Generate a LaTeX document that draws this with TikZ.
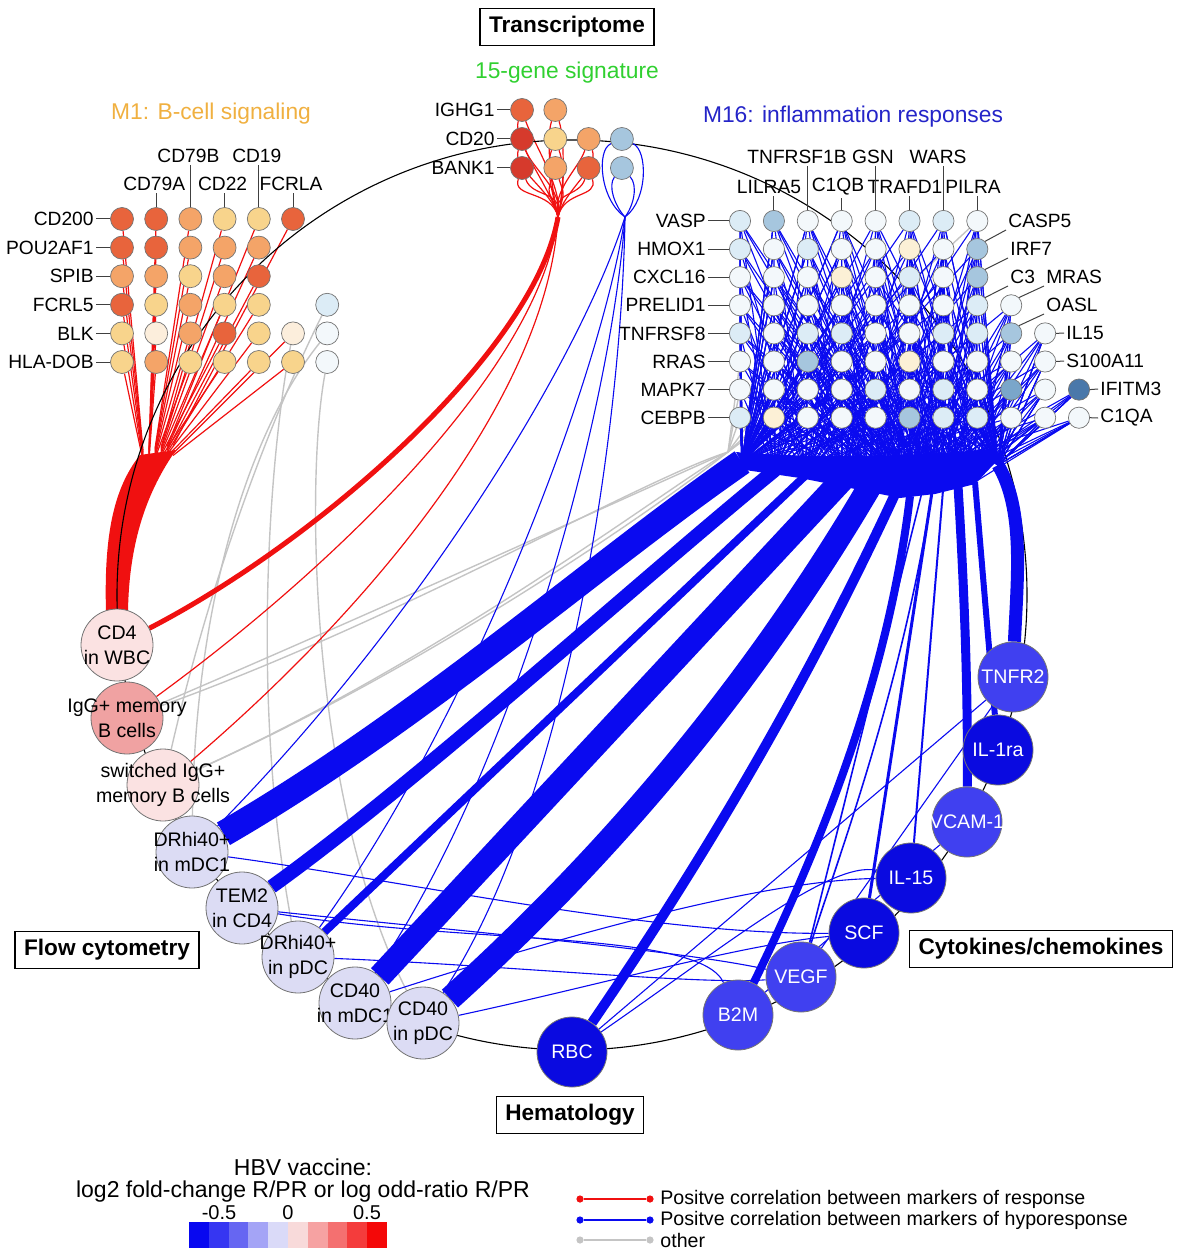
\documentclass[tikz,border=0pt]{standalone}
\usepackage{fontspec}
\setmainfont{Liberation Sans}
\usetikzlibrary{calc}
\pgfdeclarelayer{lay1}
\pgfdeclarelayer{lay2}
\pgfdeclarelayer{lay3}
\pgfsetlayers{lay1,lay2,lay3,main}
\definecolor{edgered}{HTML}{F01010}
\definecolor{edgeblue}{HTML}{0A0AF0}
\definecolor{edgegray}{HTML}{C4C4C4}
\definecolor{o1}{HTML}{E8643C}
\definecolor{o2}{HTML}{F4A468}
\definecolor{o3}{HTML}{F8D48C}
\definecolor{o4}{HTML}{FCEEDC}
\definecolor{r1}{HTML}{D63A2C}
\definecolor{b0}{HTML}{F3F8FB}
\definecolor{b1}{HTML}{DCECF6}
\definecolor{b2}{HTML}{A6C6DE}
\definecolor{b3}{HTML}{7AA6CA}
\definecolor{b4}{HTML}{4A78AA}
\definecolor{y0}{HTML}{FCF0D6}
\definecolor{pinkA}{HTML}{FBE2E2}
\definecolor{pinkB}{HTML}{F0A2A2}
\definecolor{lav}{HTML}{DCDCF4}
\definecolor{cyA}{HTML}{4040F0}
\definecolor{cyB}{HTML}{0A0AE0}
\definecolor{ttlgreen}{HTML}{30D030}
\definecolor{ttlorange}{HTML}{F0B040}
\definecolor{ttlblue}{HTML}{2424C8}
\definecolor{sc0}{HTML}{0808F0}
\definecolor{sc1}{HTML}{3636F2}
\definecolor{sc2}{HTML}{6666F2}
\definecolor{sc3}{HTML}{A4A4F6}
\definecolor{sc4}{HTML}{DADAF8}
\definecolor{sc5}{HTML}{F8DADA}
\definecolor{sc6}{HTML}{F6A2A2}
\definecolor{sc7}{HTML}{F47070}
\definecolor{sc8}{HTML}{F43C3C}
\definecolor{sc9}{HTML}{F40808}
\begin{document}
\begin{tikzpicture}[x=0.5pt,y=-0.5pt,
  gene/.style={circle,draw=black!55,line width=0.35pt,minimum size=11.5pt,inner sep=0pt},
  rgene/.style={gene,minimum size=10.6pt},
  bignode/.style={circle,draw=black!55,line width=0.4pt,minimum size=36pt,inner sep=0pt},
  cyto/.style={bignode,minimum size=35pt},
  glab/.style={font=\fontsize{9.6}{11}\selectfont,inner sep=1pt},
  nlab/.style={font=\fontsize{9.8}{12.4}\selectfont,align=center,inner sep=0pt},
  wlab/.style={nlab,text=white},
  boxlab/.style={draw=black,line width=0.8pt,font=\bfseries\fontsize{11.3}{13}\selectfont,inner xsep=4.5pt,inner ysep=0pt,minimum height=18.5pt},
  ttl/.style={font=\fontsize{11.4}{13}\selectfont},
  lgd/.style={font=\fontsize{9.8}{11}\selectfont,anchor=west,inner sep=0pt},
  redge/.style={draw=edgered,line width=0.6pt},
  bedge/.style={draw=edgeblue,line width=0.55pt},
  gedge/.style={draw=edgegray,line width=0.7pt},
  leader/.style={draw=black!75,line width=0.5pt},
  dot/.style={circle,inner sep=0pt,minimum size=3.6pt},
]
\useasboundingbox (0,0) rectangle (1180,1251);

% ---------------- titles and boxes
\node[boxlab] (tr) at (567,27) {Transcriptome};
\node[boxlab] (fc) at (107,950) {Flow cytometry};
\node[boxlab] (hm) at (570,1115) {Hematology};
\node[boxlab] (cc) at (1041,949) {Cytokines/chemokines};
\node[ttl,text=ttlgreen] (t15) at (567,73) {15-gene signature};
\node[ttl,text=ttlorange] (tm1) at (211,114) {M1: B-cell signaling};
\node[ttl,text=ttlblue] (tm16) at (853,117) {M16: inflammation responses};

% ---------------- M1 grid
\foreach \c/\r/\col in {1/1/o1,2/1/o1,3/1/o2,4/1/o3,5/1/o3,6/1/o1,
  1/2/o1,2/2/o1,3/2/o2,4/2/o2,5/2/o2,
  1/3/o2,2/3/o2,3/3/o3,4/3/o2,5/3/o1,
  1/4/o1,2/4/o3,3/4/o2,4/4/o3,5/4/o3,7/4/b1,
  1/5/o3,2/5/o4,3/5/o2,4/5/o1,5/5/o3,6/5/o4,7/5/b0,
  1/6/o3,2/6/o2,3/6/o3,4/6/o3,5/6/o3,6/6/o3,7/6/b0}
  \node[gene,fill=\col] (L\c\r) at ({122+(\c-1)*34.2},{219+(\r-1)*28.6}) {};
\foreach \r/\t in {1/CD200,2/POU2AF1,3/SPIB,4/FCRL5,5/BLK,6/HLA-DOB}{
  \node[glab,anchor=east] (ml\r) at (96,{219+(\r-1)*28.6}) {\t};
  \draw[leader] (ml\r.east) -- (L1\r.west);
}
\foreach \c/\t/\yy in {2/CD79A/184,3/CD79B/156,4/CD22/184,5/CD19/156,6/FCRLA/184}{
  \node[glab] (mc\c) at ({120+(\c-1)*34.2},\yy) {\t};
  \draw[leader] (L\c1.north) -- (L\c1.north |- mc\c.south);
}

% ---------------- 15-gene signature
\foreach \c/\r/\col in {1/1/o1,2/1/o2,1/2/r1,2/2/o3,3/2/o2,4/2/b2,1/3/r1,2/3/o2,3/3/o1,4/3/b2}
  \node[gene,fill=\col] (T\c\r) at ({522+(\c-1)*33.3},{110+(\r-1)*29}) {};
\foreach \r/\t in {1/IGHG1,2/CD20,3/BANK1}{
  \node[glab,anchor=east] (tl\r) at (497,{110+(\r-1)*29}) {\t};
  \draw[leader] (tl\r.east) -- (T1\r.west);
}

% ---------------- M16 grid
\foreach \c/\r/\col in {1/1/b1,2/1/b2,3/1/b0,4/1/b0,5/1/b0,6/1/b1,7/1/b1,8/1/b0,
  1/2/b1,2/2/b0,3/2/b1,4/2/b0,5/2/b0,6/2/y0,7/2/b0,8/2/b2,
  1/3/b0,2/3/b0,3/3/b0,4/3/y0,5/3/b0,6/3/b1,7/3/b0,8/3/b2,
  1/4/b0,2/4/b0,3/4/b0,4/4/b0,5/4/b0,6/4/b0,7/4/b0,8/4/b1,9/4/b0,
  1/5/b1,2/5/b0,3/5/b1,4/5/b1,5/5/b0,6/5/b0,7/5/b1,8/5/b1,9/5/b2,10/5/b0,
  1/6/b0,2/6/b0,3/6/b2,4/6/b0,5/6/b0,6/6/y0,7/6/b0,8/6/b0,9/6/b0,10/6/b0,
  1/7/b0,2/7/b0,3/7/b0,4/7/b0,5/7/b1,6/7/b0,7/7/b1,8/7/b0,9/7/b3,10/7/b0,11/7/b4,
  1/8/b1,2/8/y0,3/8/b0,4/8/b0,5/8/b0,6/8/b2,7/8/b1,8/8/b1,9/8/b0,10/8/b0,11/8/b0}
  \node[rgene,fill=\col] (R\c r\r) at ({740+(\c-1)*33.9},{221+(\r-1)*28.1}) {};
\foreach \r/\t in {1/VASP,2/HMOX1,3/CXCL16,4/PRELID1,5/TNFRSF8,6/RRAS,7/MAPK7,8/CEBPB}{
  \node[glab,anchor=east] (rl\r) at (708,{221+(\r-1)*28.1}) {\t};
  \draw[leader] (rl\r.east) -- (R1r\r.west);
}
\foreach \c/\t/\xx/\yy in {2/LILRA5/769/187,4/C1QB/838/187,6/TRAFD1/905/187,8/PILRA/973/187,
  3/TNFRSF1B/797/157,5/GSN/873/157,7/WARS/938/157}{
  \node[glab] (rc\c) at (\xx,\yy) {\t};
  \draw[leader] (R\c r1.north) -- (R\c r1.north |- rc\c.south);
}
\node[glab,anchor=south west] (casp) at (1006,230) {CASP5};
\node[glab,anchor=south west] (irf) at (1008,258) {IRF7};
\node[glab,anchor=south west] (cthree) at (1008,286) {C3};
\node[glab,anchor=south west] (mras) at (1044,286) {MRAS};
\node[glab,anchor=south west] (oasl) at (1044,314) {OASL};
\draw[leader] (R8r2.north east) -- (casp.south west);
\draw[leader] (R8r3.north east) -- (irf.south west);
\draw[leader] (R8r4.north east) -- (cthree.south west);
\draw[leader] (R9r4.north east) -- (mras.south west);
\draw[leader] (R9r5.north east) -- (oasl.south west);
\node[glab,anchor=west] (ilf) at (1064,333) {IL15};
\node[glab,anchor=west] (sa) at (1064,361) {S100A11};
\node[glab,anchor=west] (ifi) at (1098,389) {IFITM3};
\node[glab,anchor=west] (cqa) at (1098,418) {C1QA};
\draw[leader] (R10r5.east) -- (ilf.west);
\draw[leader] (R10r6.east) -- (sa.west);
\draw[leader] (R11r7.east) -- (ifi.west);
\draw[leader] (R11r8.east) -- (cqa.west);

% ---------------- flow cytometry nodes
\node[bignode,fill=pinkA,label={[nlab]center:{CD4\\in WBC}}] (cd4) at (117,645) {};
\node[bignode,fill=pinkB,label={[nlab]center:{IgG+ memory\\B cells}}] (igg) at (127,718) {};
\node[bignode,fill=pinkA,label={[nlab]center:{switched IgG+\\memory B cells}}] (sw) at (163,785) {};
\node[bignode,fill=lav,label={[nlab]center:{DRhi40+\\in mDC1}}] (dm) at (192,852) {};
\node[bignode,fill=lav,label={[nlab]center:{TEM2\\in CD4}}] (tem) at (242,908) {};
\node[bignode,fill=lav,label={[nlab]center:{DRhi40+\\in pDC}}] (dp) at (298,957) {};
\node[bignode,fill=lav,label={[nlab]center:{CD40\\in mDC1}}] (cm) at (355,1003) {};
\node[bignode,fill=lav,label={[nlab]center:{CD40\\in pDC}}] (cp) at (423,1023) {};

% ---------------- hematology / cytokines
\node[cyto,fill=cyB,label={[wlab]center:RBC}] (rbc) at (572,1052) {};
\node[cyto,fill=cyA,label={[wlab]center:B2M}] (b2m) at (738,1015) {};
\node[cyto,fill=cyA,label={[wlab]center:VEGF}] (vegf) at (801,977) {};
\node[cyto,fill=cyB,label={[wlab]center:SCF}] (scf) at (864,933) {};
\node[cyto,fill=cyB,label={[wlab]center:IL-15}] (il15) at (911,878) {};
\node[cyto,fill=cyA,label={[wlab]center:VCAM-1}] (vcam) at (967,822) {};
\node[cyto,fill=cyB,label={[wlab]center:IL-1ra}] (il1ra) at (998,750) {};
\node[cyto,fill=cyA,label={[wlab]center:TNFR2}] (tnfr2) at (1013,677) {};

% ---------------- hub points
\coordinate (fan) at (158,452);
\coordinate (redhub) at (558,217);
\coordinate (bluehub) at (625,217);
\coordinate (grayhub) at (728,452);
\coordinate (h0) at (742,462);
\coordinate (h1) at (775,470);
\coordinate (h2) at (806,475);
\coordinate (h3) at (842,480);
\coordinate (h4) at (870,486);
\coordinate (h5) at (896,492);
\coordinate (h6) at (910,496);
\coordinate (h7) at (922,492);
\coordinate (h8) at (932,492);
\coordinate (h9) at (943,490);
\coordinate (h10) at (958,486);
\coordinate (h11) at (975,482);
\coordinate (h12) at (998,465);

% ---------------- gray and red edges
\begin{pgfonlayer}{lay1}
\draw[gedge] (L74) .. controls (270,420) and (210,580) .. (sw);
\draw[gedge] (L75) .. controls (250,430) and (195,600) .. (dm);
\draw[gedge] (L65) .. controls (270,450) and (250,700) .. (dp);
\draw[gedge] (L76) .. controls (305,480) and (310,800) .. (cp);
\draw[gedge] (igg) .. controls (380,610) and (620,500) .. (grayhub);
\draw[gedge] (igg) .. controls (400,620) and (640,480) .. (grayhub);
\draw[gedge] (sw) .. controls (420,670) and (640,520) .. (grayhub);
\draw[gedge] (sw) .. controls (440,660) and (650,500) .. (grayhub);
\foreach \n in {R1r6,R1r7,R1r8,R2r8,R2r7,R8r1}
  \draw[gedge] (\n) -- (grayhub);
% M1 fan and bundle
\fill[edgered] (106,612) .. controls (104,540) and (112,490) .. (140,455)
  -- (176,450) .. controls (148,490) and (129,540) .. (128,612) -- cycle;
\foreach \c/\r in {1/1,2/1,3/1,4/1,5/1,6/1,1/2,2/2,3/2,4/2,5/2,1/3,2/3,3/3,4/3,5/3,
  1/4,2/4,3/4,4/4,5/4,1/5,2/5,3/5,4/5,5/5,6/5,1/6,2/6,3/6,4/6,5/6,6/6}
  \draw[redge] (L\c\r) -- ($(fan)+({(\c-3.5)*6},{(\r-3)*2+(\c-3.5)*-1})$);
% 15-gene signature loops
\foreach \n in {T11,T21,T12,T22,T32,T13,T23,T33}{
  \draw[redge] (\n) .. controls ($(\n)+(-10,30)$) and (552,190) .. (redhub);
  \draw[redge] (\n) .. controls ($(\n)+(10,30)$) and (564,190) .. (redhub);
}
\draw[edgered,line width=2.5pt] (redhub) .. controls (535,350) and (320,540) .. (cd4);
\draw[redge] (redhub) .. controls (540,370) and (330,570) .. (igg);
\draw[redge] (redhub) .. controls (548,390) and (380,600) .. (sw);
\end{pgfonlayer}

% ---------------- outer circle
\begin{pgfonlayer}{lay2}
\draw[black,line width=0.55pt] (572,595) circle [radius=227.5pt];
\end{pgfonlayer}

% ---------------- blue edges
\begin{pgfonlayer}{lay3}
\draw[bedge] (T42) .. controls (596,150) and (600,200) .. (bluehub);
\draw[bedge] (T42) .. controls (648,150) and (648,200) .. (bluehub);
\draw[bedge] (T43) .. controls (608,185) and (614,205) .. (bluehub);
\draw[bedge] (T43) .. controls (638,185) and (634,205) .. (bluehub);
\draw[bedge] (bluehub) .. controls (580,360) and (420,620) .. (dm);
\draw[bedge] (bluehub) .. controls (600,380) and (470,720) .. (dp);
\draw[bedge] (bluehub) .. controls (612,400) and (520,760) .. (cm);
\draw[bedge] (bluehub) .. controls (622,420) and (570,800) .. (cp);
% dense mass under the M16 grid
\fill[edgeblue] (736,452) .. controls (800,458) and (920,458) .. (996,448)
  -- (994,464) -- (975,484) -- (935,494)
  -- (900,498) -- (860,490) -- (800,478) -- (745,470) -- cycle;
% mesh
\foreach \c/\r in {1/1,2/1,3/1,4/1,5/1,6/1,7/1,8/1,
  1/2,2/2,3/2,4/2,5/2,6/2,7/2,8/2,
  1/3,2/3,3/3,4/3,5/3,6/3,7/3,8/3,
  1/4,2/4,3/4,4/4,5/4,6/4,7/4,8/4,9/4,
  1/5,2/5,3/5,4/5,5/5,6/5,7/5,8/5,9/5,10/5,
  1/6,2/6,3/6,4/6,5/6,6/6,7/6,8/6,9/6,10/6,
  1/7,2/7,3/7,4/7,5/7,6/7,7/7,8/7,9/7,10/7,11/7,
  1/8,2/8,3/8,4/8,5/8,6/8,7/8,8/8,9/8,10/8,11/8}{
  \foreach \o in {-7,-4,-2,0,2,4,6}{
    \pgfmathtruncatemacro\hh{max(0,min(12,round((\c-1)*1.15)+\o+mod(\r,2)))}
    \draw[bedge] (R\c r\r) -- (h\hh);
  }
}
% bundles
\draw[edgeblue,line width=13pt] (h0) .. controls (600,560) and (420,720) .. (dm);
\draw[edgeblue,line width=7pt] (h1) .. controls (640,580) and (420,780) .. (tem);
\draw[edgeblue,line width=4pt] (h2) -- (dp);
\draw[edgeblue,line width=12pt] (h3) -- (cm);
\draw[edgeblue,line width=12pt] (h4) .. controls (754,683) and (614,850) .. (cp);
\draw[edgeblue,line width=5pt] (h5) .. controls (809,680) and (708,853) .. (rbc);
\draw[edgeblue,line width=4pt] (h6) .. controls (890,663) and (833,820) .. (b2m);
\draw[edgeblue,line width=0.8pt] (h7) -- (vegf);
\draw[edgeblue,line width=0.8pt] (h8) .. controls (900,700) and (830,880) .. (vegf);
\draw[edgeblue,line width=1.5pt] (h8) -- (scf);
\draw[edgeblue,line width=1pt] (h9) -- (il15);
\draw[edgeblue,line width=4.5pt] (h10) .. controls (965,600) and (968,700) .. (vcam);
\draw[edgeblue,line width=3pt] (h11) .. controls (985,600) and (990,660) .. (il1ra);
\draw[edgeblue,line width=6.5pt] (h12) .. controls (1025,510) and (1017,580) .. (tnfr2);
% thin connections near the bottom
\draw[bedge] (dm) .. controls (400,880) and (650,935) .. (scf);
\draw[bedge] (tem) .. controls (450,930) and (680,950) .. (vegf);
\draw[bedge] (tem) .. controls (470,945) and (700,930) .. (b2m);
\draw[bedge] (dp) .. controls (500,965) and (700,985) .. (vegf);
\draw[bedge] (cp) .. controls (600,985) and (740,945) .. (scf);
\draw[bedge] (cm) .. controls (550,940) and (760,880) .. (il15);
\draw[bedge] (rbc) -- (tnfr2);
\draw[bedge] (rbc) .. controls (720,950) and (830,860) .. (il15);
\draw[bedge] (vegf) -- (tnfr2);
\draw[bedge] (b2m) -- (vcam);
\end{pgfonlayer}

% ---------------- legend
\node[font=\fontsize{11.5}{13}\selectfont] (lg1) at (303,1167) {HBV vaccine:};
\node[font=\fontsize{11.5}{13}\selectfont] (lg2) at (303,1192) {log2 fold-change R/PR or log odd-ratio R/PR};
\foreach \i in {0,...,9}
  \node[fill=sc\i,minimum width=9.9pt,minimum height=13pt,inner sep=0pt] (sq\i) at ({198.9+\i*19.8},1235) {};
\node[font=\fontsize{10}{11}\selectfont] (s1) at (219,1213) {-0.5};
\node[font=\fontsize{10}{11}\selectfont] (s2) at (288,1213) {0};
\node[font=\fontsize{10}{11}\selectfont] (s3) at (367,1213) {0.5};

\node[dot,fill=edgered] (ra) at (580,1199) {};
\node[dot,fill=edgered] (rb) at (650,1199) {};
\draw[edgered,line width=1pt] (ra) -- (rb);
\node[lgd] (rt) at (660,1199) {Positve correlation between markers of response};
\node[dot,fill=edgeblue] (ba) at (580,1220) {};
\node[dot,fill=edgeblue] (bb) at (650,1220) {};
\draw[edgeblue,line width=1pt] (ba) -- (bb);
\node[lgd] (bt) at (660,1220) {Positve correlation between markers of hyporesponse};
\node[dot,fill=edgegray] (ga) at (580,1240) {};
\node[dot,fill=edgegray] (gb) at (650,1240) {};
\draw[edgegray,line width=1pt] (ga) -- (gb);
\node[lgd] (gt) at (660,1240) {other};
\end{tikzpicture}
\end{document}
